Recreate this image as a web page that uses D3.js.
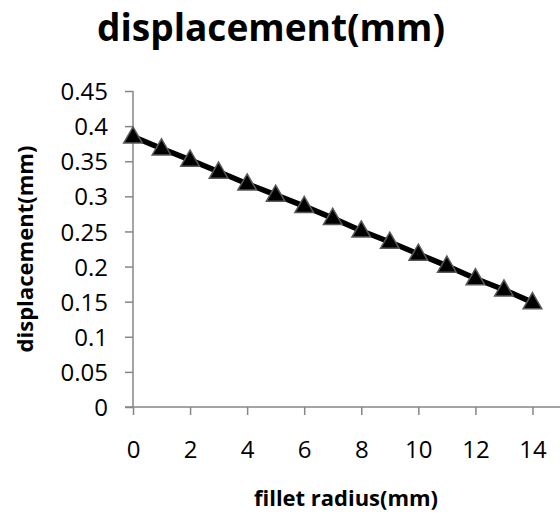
<!DOCTYPE html>
<html>
<head>
<meta charset="utf-8">
<script src="https://cdn.jsdelivr.net/npm/d3@7"></script>
<style>
  html, body { margin: 0; padding: 0; background: #fff; }
  svg { display: block; }
  text { font-family: "Open Sans", "Liberation Sans", sans-serif; fill: #000; }
</style>
</head>
<body>
<svg id="chart" width="560" height="517"></svg>
<script>
// fillet radius (mm) vs. displacement (mm)
const radius = [0, 1, 2, 3, 4, 5, 6, 7, 8, 9, 10, 11, 12, 13, 14];
const displacement = [0.385, 0.368, 0.352, 0.335, 0.318, 0.302, 0.286, 0.269,
                      0.251, 0.235, 0.218, 0.201, 0.183, 0.167, 0.149];
const xTicks = [0, 2, 4, 6, 8, 10, 12, 14];
const yTicks = [0, 0.05, 0.1, 0.15, 0.2, 0.25, 0.3, 0.35, 0.4, 0.45];

const title = "displacement(mm)";
const xTitle = "fillet radius(mm)";
const yTitle = "displacement(mm)";

const svg = d3.select("#chart");
const axisColor = "#868686";

const x = d3.scaleLinear().domain([0, 15]).range([133, 561]);
const y = d3.scaleLinear().domain([0, 0.45]).range([407, 91]);

// fit a text element to a given width by adjusting its font size
function fitWidth(sel, target) {
  const w = sel.node().getComputedTextLength();
  const fs = parseFloat(sel.attr("font-size"));
  sel.attr("font-size", (fs * target / w).toFixed(2));
}

// title
const t = svg.append("text")
  .attr("x", 271).attr("y", 41)
  .attr("text-anchor", "middle")
  .attr("font-weight", "bold")
  .attr("font-size", 30)
  .text(title);
fitWidth(t, 348);

// y axis
const yAxis = svg.append("g")
  .attr("transform", `translate(${x(0)},0)`)
  .call(d3.axisLeft(y).tickValues(yTicks).tickSize(8)
    .tickFormat(d => String(+d.toFixed(2))));
yAxis.attr("font-size", null).attr("font-family", null);
yAxis.select(".domain").attr("stroke", axisColor).attr("stroke-width", 1.5)
  .attr("d", `M0,${y(0.45)}V${y(0)}`);
yAxis.selectAll(".tick line").attr("stroke", axisColor).attr("stroke-width", 1.5);
yAxis.selectAll(".tick text")
  .style("font-size", "24px")
  .attr("fill", "#000")
  .attr("x", -25).attr("dy", "0.36em");

// x axis
const xAxis = svg.append("g")
  .attr("transform", `translate(0,${y(0)})`)
  .call(d3.axisBottom(x).tickValues(xTicks).tickSize(8));
xAxis.attr("font-size", null).attr("font-family", null);
xAxis.select(".domain").attr("stroke", axisColor).attr("stroke-width", 1.5)
  .attr("d", `M${x(0) - 8},0H${x(15)}`);
xAxis.selectAll(".tick line").attr("stroke", axisColor).attr("stroke-width", 1.5);
xAxis.selectAll(".tick text")
  .style("font-size", "24px")
  .attr("fill", "#000")
  .attr("y", 51).attr("dy", 0);

// axis titles
const xt = svg.append("text")
  .attr("x", 346).attr("y", 506)
  .attr("text-anchor", "middle")
  .attr("font-weight", "bold")
  .attr("font-size", 16)
  .text(xTitle);
fitWidth(xt, 184);

const yt = svg.append("text")
  .attr("transform", `translate(33,${(y(0) + y(0.45)) / 2}) rotate(-90)`)
  .attr("text-anchor", "middle")
  .attr("font-weight", "bold")
  .attr("font-size", 16)
  .text(yTitle);
fitWidth(yt, 207);

// series line
const pts = radius.map((r, i) => [r, displacement[i]]);
svg.append("path")
  .datum(pts)
  .attr("fill", "none")
  .attr("stroke", "#000")
  .attr("stroke-width", 5.5)
  .attr("stroke-linejoin", "round")
  .attr("d", d3.line().x(d => x(d[0])).y(d => y(d[1])));

// triangle markers
const tri = d3.symbol().type(d3.symbolTriangle).size(150);
svg.append("g").selectAll("path")
  .data(pts)
  .join("path")
  .attr("transform", d => `translate(${x(d[0])},${y(d[1]) + 1})`)
  .attr("d", tri)
  .attr("fill", "#000")
  .attr("stroke", "#595959")
  .attr("stroke-width", 1.5);
</script>
</body>
</html>
